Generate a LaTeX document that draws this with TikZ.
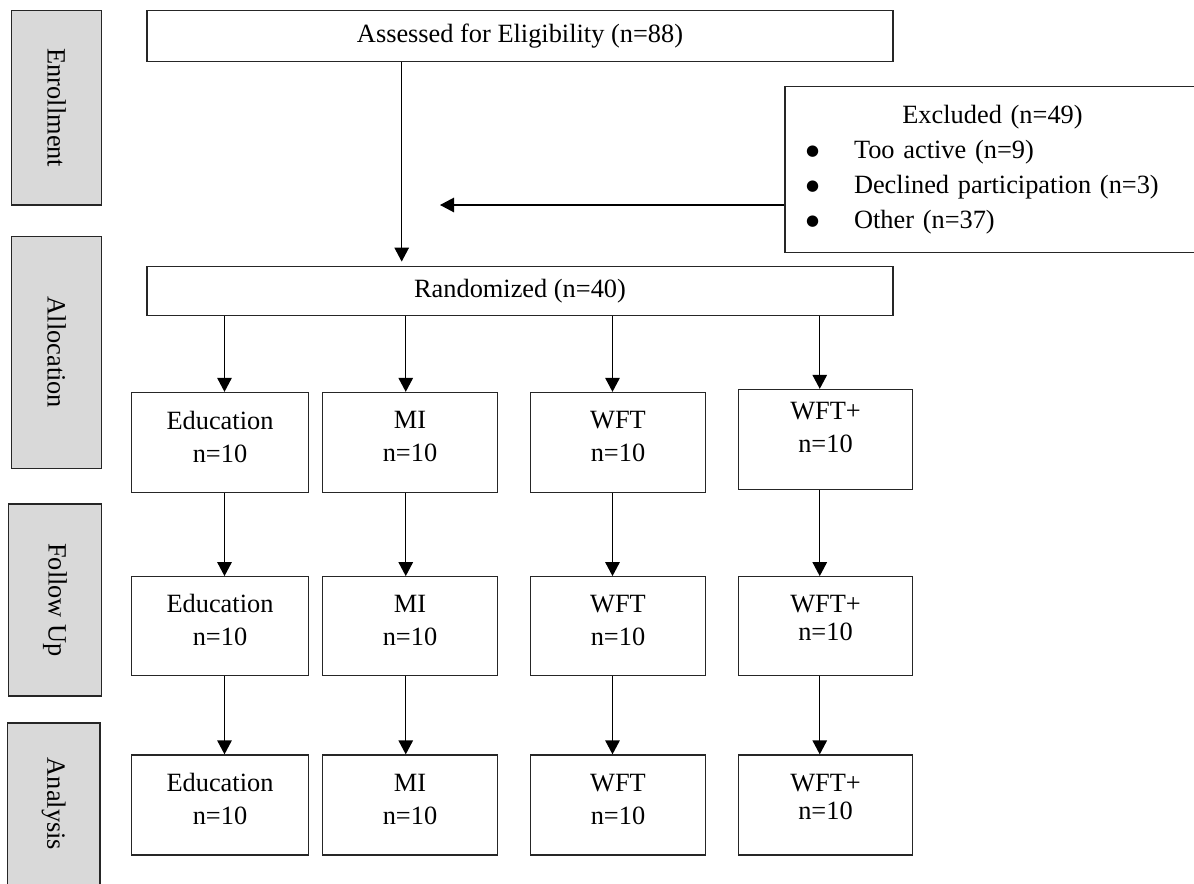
\documentclass[tikz,border=0pt]{standalone}
\usepackage{fontspec}
\setmainfont{Liberation Serif}
\newfontfamily\symfont{DejaVu Sans}
\usetikzlibrary{arrows.meta, positioning, calc}
\definecolor{stagegray}{RGB}{217,217,217}
\newcommand{\bigbul}{\makebox[9.6mm][l]{\raisebox{1.9pt}{\symfont\fontsize{8.5}{9}\selectfont ●}}}

\tikzset{
  box/.style={draw=black!85, line width=0.75pt, align=center, inner sep=0pt,
    font=\fontsize{15}{18.7}\selectfont},
  stage/.style={box, fill=stagegray, rotate=-90},
  grp/.style={box, minimum height=20mm, text depth=2.4mm},
  tightgrp/.style={grp, font=\fontsize{15}{16}\selectfont, text depth=3.35mm},
  arr/.style={-{Triangle[width=2.9mm,length=2.8mm]}, line width=0.75pt},
}

\begin{document}
\begin{tikzpicture}[x=0.2mm, y=-0.2mm]
  \useasboundingbox (0,0) rectangle (1194,883);

  % stage labels on the left
  \node[stage, minimum width=38.9mm, minimum height=18mm] (enrol) at (56.7,107.9) {Enrollment};
  \node[stage, minimum width=46.3mm, minimum height=18mm] (alloc) at (56.7,352.4) {Allocation};
  \node[stage, minimum width=38.4mm, minimum height=18.7mm] (follow) at (55,600) {Follow Up};
  \node[stage, minimum width=32.4mm, minimum height=18.5mm] (anal) at (53.7,804) {Analysis};

  % screening
  \node[box, minimum width=149.2mm, minimum height=10.1mm] (elig) at (520,36) {Assessed for Eligibility (n=88)};
  \node[box, minimum width=149.2mm, minimum height=9.9mm] (rand) at (520,291) {Randomized (n=40)};
  \node[box, minimum width=83mm, minimum height=33.2mm, inner xsep=4.2mm, text width=74.6mm,
    align=left, font=\fontsize{15}{20}\selectfont] (excl) at (992.5,169.7)
    {\makebox[\linewidth]{Excluded (n=49)}\\
     \bigbul Too active (n=9)\\
     \bigbul Declined participation (n=3)\\
     \bigbul Other (n=37)};
  \coordinate (exit) at (440,205);

  \draw[arr, shorten >=0.8mm] ([xshift=-23.66mm]elig.south) -- ([xshift=-23.66mm]rand.north);
  \draw[arr] (excl.west |- exit) -- (exit);

  % arms: allocation, follow up, analysis
  \node[grp, minimum width=35.3mm] (edu1) at (220,442.5) {Education\\n=10};
  \node[grp, minimum width=35.1mm] (mi1) at (410,442.5) {MI\\n=10};
  \node[grp, minimum width=35mm] (wft1) at (618,442.5) {WFT\\n=10};
  \node[grp, minimum width=34.7mm, text depth=4.8mm] (wfp1) at (825.5,439.5) {WFT+\\n=10};

  \node[grp, minimum width=35.3mm, minimum height=19.7mm] (edu2) at (220,626) {Education\\n=10};
  \node[grp, minimum width=35.1mm, minimum height=19.7mm] (mi2) at (410,626) {MI\\n=10};
  \node[grp, minimum width=35mm, minimum height=19.7mm] (wft2) at (618,626) {WFT\\n=10};
  \node[tightgrp, minimum width=34.7mm, minimum height=19.7mm] (wfp2) at (825.5,626) {WFT+\\n=10};

  \node[grp, minimum width=35.3mm] (edu3) at (220,805) {Education\\n=10};
  \node[grp, minimum width=35.1mm] (mi3) at (410,805) {MI\\n=10};
  \node[grp, minimum width=35mm] (wft3) at (618,805) {WFT\\n=10};
  \node[tightgrp, minimum width=34.7mm] (wfp3) at (825.5,805) {WFT+\\n=10};

  \foreach \g/\dx in {edu/0.9mm, mi/-0.85mm, wft/-1.1mm, wfp/-1.15mm}{
    \draw[arr] ($(\g1.north |- rand.south)+(\dx,0)$) -- ($(\g1.north)+(\dx,0)$);
    \draw[arr] ($(\g1.south)+(\dx,0)$) -- ($(\g2.north)+(\dx,0)$);
    \draw[arr] ($(\g2.south)+(\dx,0)$) -- ($(\g3.north)+(\dx,0)$);
  }
\end{tikzpicture}
\end{document}
